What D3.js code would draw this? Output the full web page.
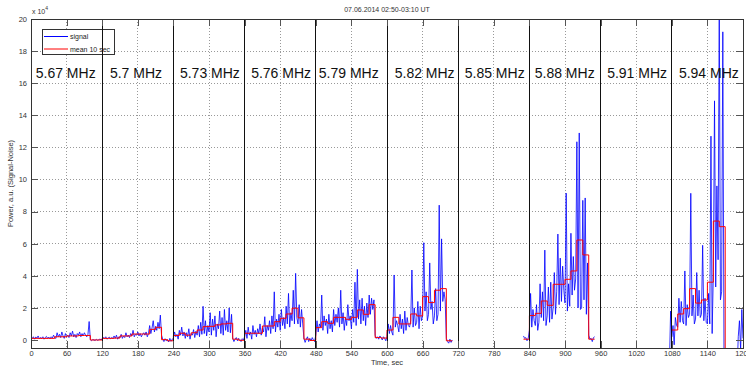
<!DOCTYPE html>
<html>
<head>
<meta charset="utf-8">
<script src="https://cdn.jsdelivr.net/npm/d3@7"></script>
<style>
  html, body { margin: 0; padding: 0; background: #fff; }
  svg { display: block; font-family: "Liberation Sans", Arial, sans-serif; }
</style>
</head>
<body>
<svg id="chart" width="746" height="373"></svg>
<script>
// labels
const title = "07.06.2014 02:50-03:10 UT";
const xLabel = "Time, sec";
const yLabel = "Power, a.u. (Signal-Noise)";
const legendLabels = ["signal", "mean 10 sec"];
const freqLabels = ["5.67 MHz", "5.7 MHz", "5.73 MHz", "5.76 MHz", "5.79 MHz",
  "5.82 MHz", "5.85 MHz", "5.88 MHz", "5.91 MHz", "5.94 MHz"];
const freqLabelT = [8, 133, 251, 371, 485, 613, 731, 849, 971, 1092];
const freqLabelV = 16.3;
const separators = [120, 240, 360, 480, 600, 720, 840, 960, 1080];
const xTicks = [0, 60, 120, 180, 240, 300, 360, 420, 480, 540, 600, 660, 720, 780, 840, 900, 960, 1020, 1080, 1140, 1200];
const yTicks = [0, 2, 4, 6, 8, 10, 12, 14, 16, 18, 20];

// signal, x10^4, one value every 2 sec from each start time
const sigDt = 2;
const sigStart = [0, 120, 240, 360, 480, 600, 830, 1076];
const sig567 = [0.15,0.1,0.2,0.05,0.18,0.12,0.25,0.08,0.15,0.1,
  0.2,0.05,0.15,0.22,0.1,0.18,0.08,0.2,0.12,0.3,
  0.15,0.1,0.45,0.2,0.35,0.15,0.5,0.25,0.1,0.4,
  0.2,0.3,0.15,0.45,0.25,0.55,0.2,0.35,0.15,0.4,
  0.3,0.5,0.2,0.4,0.25,0.45,0.3,0.2,0.35,1.15,
  0.02,-0.05,0.03,0,-0.03,0.04,-0.02,0.01,0.05,0.02];
const sig570 = [0.05,0.15,0.1,0.2,0.05,0.12,0.18,0.08,0.15,0.1,
  0.25,0.1,0.3,0.05,0.2,0.15,0.35,0.1,0.25,0.15,
  0.45,0.2,0.3,0.15,0.4,0.25,0.6,0.2,0.35,0.3,
  0.5,0.25,0.4,0.2,0.35,0.45,0.3,0.5,0.2,0.4,
  0.9,0.4,0.75,1.2,0.5,0.85,0.6,1.1,0.7,1.55,
  0.3,0.05,-0.1,0.08,-0.05,0.02,-0.12,0.1,-0.08,0.05];
const sig573 = [0.1,0.5,0.2,0.35,0.05,0.6,0.3,0.8,0.25,0.5,
  0.1,0.45,0.2,0.7,0.05,0.4,0.3,0.65,0.15,0.55,
  0.3,0.9,0.2,1.1,0.35,2.1,0.4,1.2,0.25,0.9,
  0.5,1.7,0.3,1.3,0.6,1.5,0.2,1.0,0.7,1.8,
  0.4,1.4,0.3,1.9,0.6,1.2,0.5,2.0,0.45,1.6,
  0.1,-0.1,0.05,0.15,-0.05,0.1,0.02,-0.1,0.08,0.0];
const sig576 = [0.2,0.6,0.1,0.8,0.3,0.5,0.05,0.9,0.35,0.6,
  0.2,0.7,0.4,1.0,0.3,0.75,0.5,1.45,0.2,0.9,
  0.6,1.2,0.4,1.5,0.7,3.0,0.5,1.3,0.8,1.6,
  0.6,1.9,0.9,1.4,0.7,2.1,1.0,2.9,0.8,1.7,
  1.2,3.1,1.0,4.15,1.4,1.0,2.2,0.8,1.9,1.0,
  0.1,-0.15,0.05,0.2,-0.1,0.1,-0.05,0.15,0.0,-0.1];
const sig579 = [0.3,1.2,0.5,1.0,0.8,2.8,0.6,1.5,0.9,1.3,
  0.4,1.6,0.7,1.2,0.5,1.9,0.9,1.6,1.1,2.0,
  0.8,3.1,1.0,1.7,0.6,1.4,0.9,2.2,1.2,1.5,
  0.7,1.9,1.1,3.6,0.9,4.4,1.3,2.5,1.0,2.6,
  1.2,2.1,0.9,2.3,1.4,2.8,1.6,2.6,1.9,2.5,
  0.3,0.1,0.2,0.05,0.25,0.15,0.0,0.2,0.1,-0.05];
const sig582 = [0.2,1.0,0.4,0.9,0.5,0.3,4.05,0.8,1.2,0.9,
  0.5,1.6,0.7,1.3,0.4,1.8,0.6,1.4,0.9,0.8,
  1.2,4.36,0.8,2.0,0.9,1.1,2.4,0.7,2.1,1.2,
  1.5,6.06,1.8,3.0,1.2,1.6,4.8,1.9,2.4,1.0,
  1.5,3.2,1.2,1.6,8.4,1.8,6.3,2.4,3.0,2.5,
  0.1,-0.1,-0.2,0.05,-0.15,0.0];
const sig588 = [0.25,0.1,0.15,-0.05,0.1,
  0.6,2.9,0.8,1.9,1.2,
  0.9,2.2,0.6,1.1,3.5,
  1.4,3.0,1.2,5.6,0.9,
  1.5,3.3,1.1,3.6,1.3,
  2.0,4.2,1.6,3.0,6.6,
  2.2,5.1,2.4,4.6,3.1,
  2.3,9.15,1.8,3.5,2.1,
  6.65,2.8,5.2,3.1,3.8,
  12.35,2.0,12.9,1.9,2.0,
  8.7,2.5,8.85,1.6,4.8,
  0.3,0.05,0.1,-0.1,0.15,0.2];
const sig594 = [-1.5,1.8,
  0.2,0.9,-0.3,1.4,0.9,
  0.8,2.6,1.1,2.4,1.2,
  1.0,4.3,0.9,2.2,1.4,
  1.6,9.14,1.5,2.8,1.0,
  1.3,4.2,1.5,3.1,1.4,
  1.6,5.9,1.2,2.6,1.1,
  1.0,2.9,1.0,12.7,0.4,
  4.2,14.9,3.3,9.6,5.0,
  21,2.5,3.0,19.2,-1.5,
  -2.0,-1.8,-2.5,-1.6,-2.2,-1.9,-2.1,-1.7,-2.3,-1.8,-2.0,
  0.2,1.2,-0.6,1.9,0.1];
const signals = [sig567, sig570, sig573, sig576, sig579, sig582, sig588, sig594];

// 10 sec mean, one value per 10 sec from each start time
const meanDt = 10;
const meanStart = [0, 120, 240, 360, 480, 600, 830, 1080];
const mean567 = [0.1,0.1,0.1,0.1,0.2,0.2,0.25,0.25,0.28,0.28,0,0];
const mean570 = [0.1,0.1,0.12,0.25,0.25,0.37,0.37,0.37,0.66,0.79,0.02,-0.05];
const mean573 = [0.28,0.42,0.3,0.45,0.62,0.83,0.85,0.94,1.0,1.04,0.05,-0.02];
const mean576 = [0.42,0.42,0.42,0.87,0.87,1.14,1.35,1.62,1.98,1.38,0.05,-0.03];
const mean579 = [0.77,1.14,1.04,1.41,1.41,1.29,1.41,1.87,1.6,2.2,0.15,0.12];
const mean582 = [0.62,1.41,1.0,1.0,1.62,1.5,2.7,2.33,3.1,3.2,-0.05];
const mean588 = [0.05,1.52,1.66,2.43,2.16,3.47,3.47,3.78,4.3,6.23,5.3,0.05];
const mean594 = [0.62,1.62,1.95,3.2,2.3,2.49,3.6,7.41,7.06,-1.5,-1.5,-1.5];
const means = [mean567, mean570, mean573, mean576, mean579, mean582, mean588, mean594];

// turn start + values into points, split where there is no data
function toRuns(starts, lists, dt) {
  const pts = [];
  lists.forEach((vals, k) => vals.forEach((v, i) => pts.push({ t: starts[k] + i * dt, v: v })));
  const runs = [];
  let cur = [];
  pts.forEach((p, i) => {
    if (i > 0 && p.t - pts[i - 1].t > dt + 1e-6) { runs.push(cur); cur = []; }
    cur.push(p);
  });
  runs.push(cur);
  return runs;
}

const sigRuns = toRuns(sigStart, signals, sigDt);
const meanRuns = toRuns(meanStart, means, meanDt).map(r => {
  const last = r[r.length - 1];
  return r.concat([{ t: last.t + meanDt, v: last.v }]);
});

const plot = { left: 31, right: 743, top: 19, bottom: 348 };

const svg = d3.select("#chart");
const x = d3.scaleLinear().domain([0, 1200]).range([plot.left, plot.right]);
const y = d3.scaleLinear().domain([-0.5, 20]).range([plot.bottom, plot.top]);

svg.append("defs").append("clipPath").attr("id", "clip")
  .append("rect")
  .attr("x", plot.left).attr("y", plot.top)
  .attr("width", plot.right - plot.left).attr("height", plot.bottom - plot.top);

// grid
const grid = svg.append("g").attr("stroke", "#999").attr("stroke-dasharray", "1,2")
  .attr("shape-rendering", "crispEdges");
grid.selectAll(".gx").data(xTicks.slice(1, -1)).enter().append("line")
  .attr("x1", d => x(d)).attr("x2", d => x(d))
  .attr("y1", plot.top).attr("y2", plot.bottom);
grid.selectAll(".gy").data(yTicks.slice(1)).enter().append("line")
  .attr("x1", plot.left).attr("x2", plot.right)
  .attr("y1", d => y(d)).attr("y2", d => y(d));

// data
const data = svg.append("g").attr("clip-path", "url(#clip)");
const sigLine = d3.line().x(d => x(d.t)).y(d => y(d.v));
const meanLine = d3.line().x(d => x(d.t)).y(d => y(d.v)).curve(d3.curveStepAfter);

data.selectAll(".sig").data(sigRuns).enter().append("path")
  .attr("d", sigLine)
  .attr("fill", "none").attr("stroke", "#0000ff").attr("stroke-width", 1)
  .attr("stroke-opacity", 0.8);
data.selectAll(".mean").data(meanRuns).enter().append("path")
  .attr("d", meanLine)
  .attr("fill", "none").attr("stroke", "#ff0000").attr("stroke-width", 1);

// legend
const leg = svg.append("g");
leg.append("rect").attr("x", 42.5).attr("y", 29.5).attr("width", 72).attr("height", 25)
  .attr("fill", "#fff").attr("stroke", "#333").attr("stroke-width", 1);
const legColors = ["#0000ff", "#ff0000"];
legendLabels.forEach((lab, i) => {
  const ly = 36.5 + i * 12.5;
  leg.append("line").attr("x1", 44).attr("x2", 68).attr("y1", ly).attr("y2", ly)
    .attr("stroke", legColors[i]).attr("stroke-width", 1);
  leg.append("text").attr("x", 70).attr("y", ly + 2.5).attr("font-size", 7)
    .attr("fill", "#222").text(lab);
});

// frequency separators
svg.append("g").selectAll("line").data(separators).enter().append("line")
  .attr("x1", d => x(d)).attr("x2", d => x(d))
  .attr("y1", plot.top).attr("y2", plot.bottom)
  .attr("stroke", "#111").attr("stroke-width", 1).attr("shape-rendering", "crispEdges");

// frequency labels
svg.append("g").selectAll("text").data(freqLabels).enter().append("text")
  .attr("x", (d, i) => x(freqLabelT[i]))
  .attr("y", y(freqLabelV))
  .attr("font-size", 14).attr("fill", "#111")
  .text(d => d);

// axes
function styleAxis(g) {
  g.select(".domain").remove();
  g.selectAll(".tick line").attr("stroke", "#555").attr("shape-rendering", "crispEdges");
  g.selectAll(".tick text").attr("fill", "#333").attr("font-size", 7.5)
    .attr("font-family", "'Liberation Sans', Arial, sans-serif");
}
const plain = d => String(d);
svg.append("g").attr("transform", `translate(0,${plot.bottom})`)
  .call(d3.axisBottom(x).tickValues(xTicks).tickFormat(plain)
    .tickSizeInner(-7).tickSizeOuter(0).tickPadding(3))
  .call(styleAxis);
svg.append("g").attr("transform", `translate(0,${plot.top})`)
  .call(d3.axisTop(x).tickValues(xTicks).tickSizeInner(-7).tickSizeOuter(0).tickFormat(""))
  .call(styleAxis);
svg.append("g").attr("transform", `translate(${plot.left},0)`)
  .call(d3.axisLeft(y).tickValues(yTicks).tickFormat(plain)
    .tickSizeInner(-7).tickSizeOuter(0).tickPadding(4))
  .call(styleAxis);
svg.append("g").attr("transform", `translate(${plot.right},0)`)
  .call(d3.axisRight(y).tickValues(yTicks).tickSizeInner(-7).tickSizeOuter(0).tickFormat(""))
  .call(styleAxis);

svg.append("rect")
  .attr("x", plot.left).attr("y", plot.top)
  .attr("width", plot.right - plot.left).attr("height", plot.bottom - plot.top)
  .attr("fill", "none").attr("stroke", "#333").attr("stroke-width", 1)
  .attr("shape-rendering", "crispEdges");

// texts
svg.append("text").attr("x", (plot.left + plot.right) / 2).attr("y", 12)
  .attr("text-anchor", "middle").attr("font-size", 7).attr("fill", "#333").text(title);
svg.append("text").attr("x", (plot.left + plot.right) / 2).attr("y", 365)
  .attr("text-anchor", "middle").attr("font-size", 7.5).attr("fill", "#333").text(xLabel);
svg.append("text")
  .attr("transform", `translate(13,${(plot.top + plot.bottom) / 2}) rotate(-90)`)
  .attr("text-anchor", "middle").attr("font-size", 7.5).attr("fill", "#333").text(yLabel);

const mult = svg.append("text").attr("x", 32).attr("y", 14).attr("font-size", 7).attr("fill", "#333");
mult.append("tspan").text("x 10");
mult.append("tspan").attr("dy", -4).attr("font-size", 5).text("4");
</script>
</body>
</html>
